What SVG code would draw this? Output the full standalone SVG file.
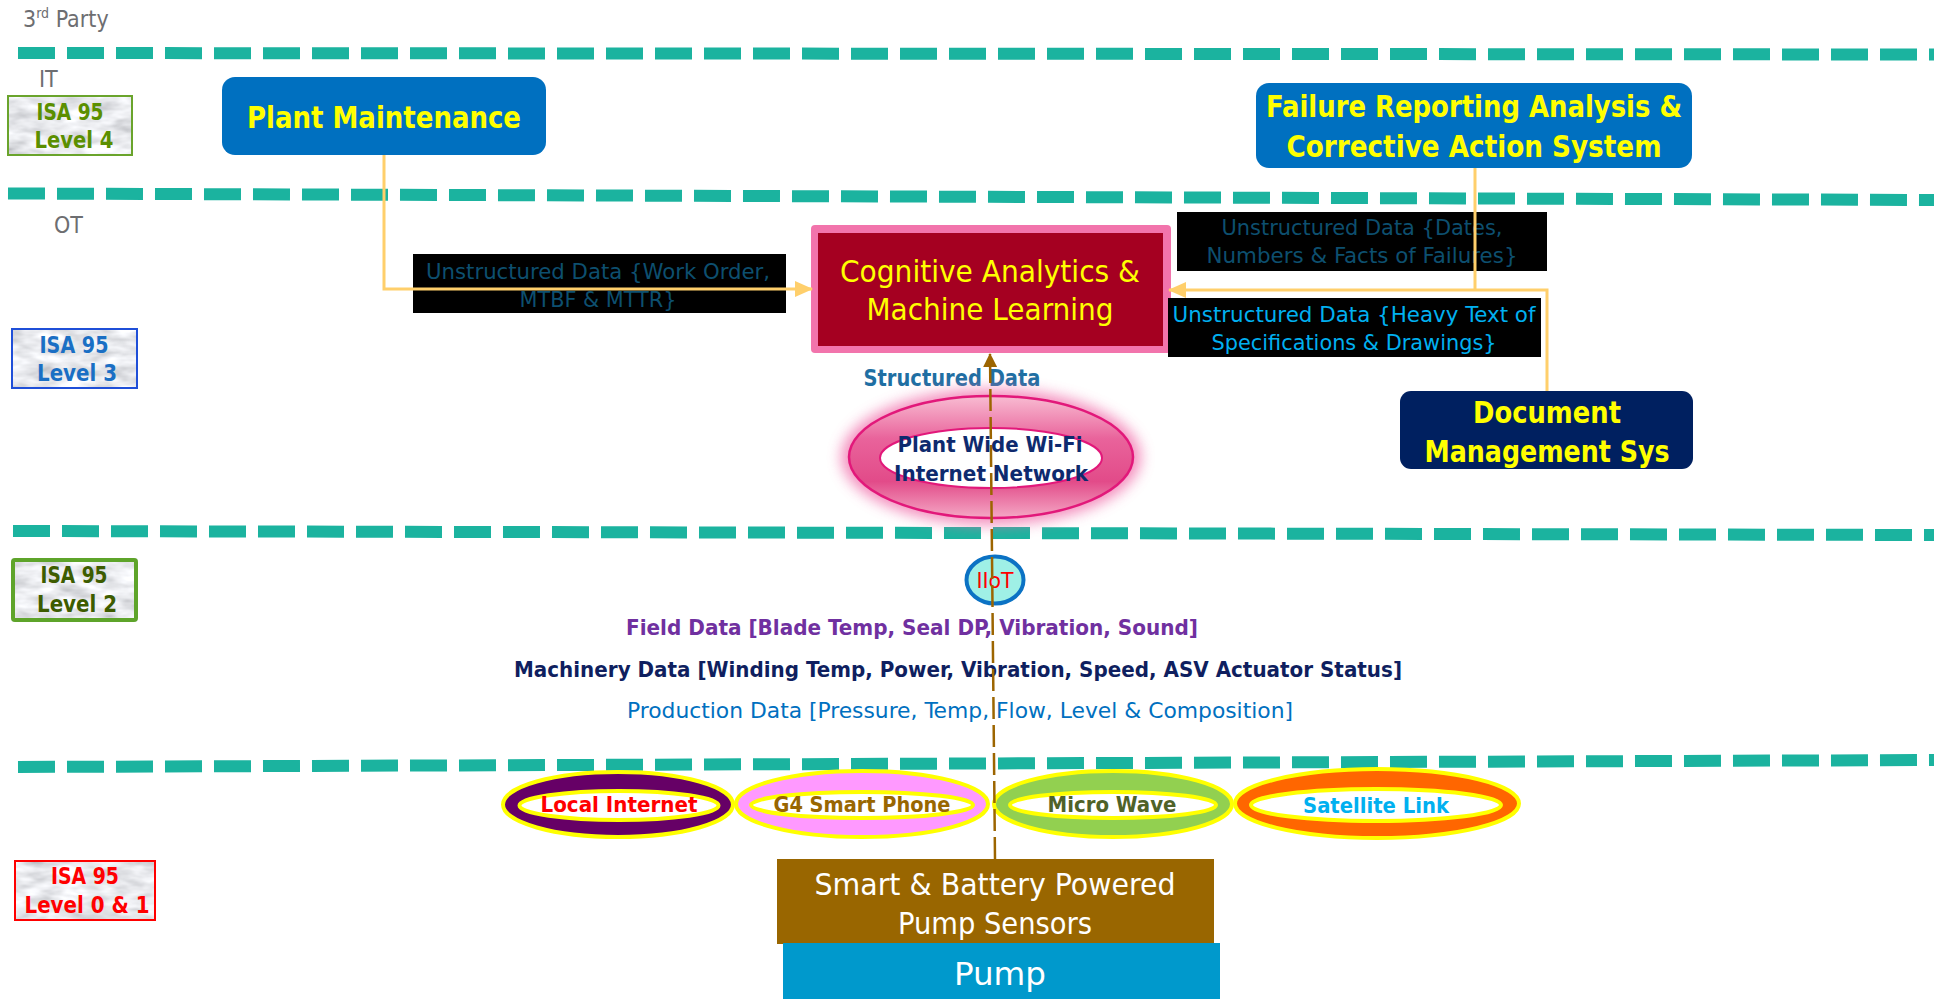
<svg xmlns="http://www.w3.org/2000/svg" width="1934" height="999" viewBox="0 0 1934 999">
  <style>
    text { font-family: "DejaVu Sans Condensed", "DejaVu Sans", sans-serif; text-anchor: middle; }
    .b { font-weight: bold; }
    .sep { fill: none; stroke: #1bb39f; stroke-width: 12; stroke-dasharray: 37 12; }
    .zone { fill: #6d6e71; font-size: 23px; text-anchor: start; }
    .isa { font-size: 23px; font-weight: bold; }
    .big { font-size: 30px; }
    .tag { fill: #000; }
    .tagtxt { font-size: 21.5px; }
    .ring-out { stroke: #ffff00; stroke-width: 4; }
    .ring-in { fill: #fff; stroke: #ffff00; stroke-width: 4; }
    .net { font-size: 21.5px; font-weight: bold; }
    .data { font-size: 21px; }
    .wire { fill: none; stroke: #ffcf6b; stroke-width: 3; }
    .iot { fill: none; stroke: #9c6500; stroke-width: 2.5; stroke-dasharray: 22 6; }
  </style>
  <defs>
    <!-- grey marble fill for the ISA 95 badges -->
    <filter id="marble" filterUnits="objectBoundingBox" x="0" y="0" width="1" height="1">
      <feTurbulence type="fractalNoise" baseFrequency="0.035 0.09" numOctaves="3" seed="7" result="noise"/>
      <feColorMatrix in="noise" type="matrix" values="0.75 0 0 0 0.44  0.75 0 0 0 0.45  0.75 0 0 0 0.48  0 0 0 0 1" result="gray"/>
      <feComposite in="gray" in2="SourceAlpha" operator="in"/>
    </filter>
    <filter id="glow" x="-20%" y="-30%" width="140%" height="160%">
      <feGaussianBlur stdDeviation="7"/>
    </filter>
    <linearGradient id="wifiRing" x1="0" y1="0" x2="0" y2="1">
      <stop offset="0" stop-color="#f8bcd2"/>
      <stop offset="0.35" stop-color="#e9639b"/>
      <stop offset="0.7" stop-color="#e24b89"/>
      <stop offset="1" stop-color="#f4a8c5"/>
    </linearGradient>
    <marker id="arrowGold" markerUnits="userSpaceOnUse" markerWidth="18" markerHeight="16" viewBox="0 0 18 16" refX="17" refY="8" orient="auto">
      <path d="M0,0 L18,8 L0,16 Z" fill="#ffcf6b"/>
    </marker>
    <marker id="arrowBrown" markerUnits="userSpaceOnUse" markerWidth="14" markerHeight="14" viewBox="0 0 14 14" refX="13" refY="7" orient="auto">
      <path d="M0,0 L14,7 L0,14 Z" fill="#9c6500"/>
    </marker>
  </defs>

  <rect width="1934" height="999" fill="#ffffff"/>

  <!-- zone separators -->
  <g id="separators">
    <line class="sep" x1="18" y1="53" x2="1934" y2="54.5"/>
    <line class="sep" x1="8" y1="193.5" x2="1934" y2="200"/>
    <line class="sep" x1="13" y1="531" x2="1934" y2="535"/>
    <line class="sep" x1="18" y1="767" x2="1934" y2="760"/>
  </g>

  <!-- zone captions -->
  <g id="zones">
    <text class="zone" x="23" y="27">3<tspan font-size="14" dy="-9">rd</tspan><tspan dy="9"> Party</tspan></text>
    <text class="zone" x="39" y="87">IT</text>
    <text class="zone" x="54" y="233">OT</text>
  </g>

  <!-- ISA 95 level badges -->
  <g id="isa-level-4">
    <rect x="8" y="96" width="124" height="59" fill="#ddd" filter="url(#marble)"/>
    <rect x="8" y="96" width="124" height="59" fill="none" stroke="#6aa42c" stroke-width="2"/>
    <text class="isa" x="70" y="120" fill="#5b8f00" textLength="67" lengthAdjust="spacingAndGlyphs">ISA 95</text>
    <text class="isa" x="74" y="148" fill="#5b8f00" textLength="79" lengthAdjust="spacingAndGlyphs">Level 4</text>
  </g>
  <g id="isa-level-3">
    <rect x="12" y="329" width="125" height="59" fill="#ddd" filter="url(#marble)"/>
    <rect x="12" y="329" width="125" height="59" fill="none" stroke="#1f4fd8" stroke-width="2"/>
    <text class="isa" x="74" y="353" fill="#1a6fc4" textLength="69" lengthAdjust="spacingAndGlyphs">ISA 95</text>
    <text class="isa" x="77" y="381" fill="#1a6fc4" textLength="80" lengthAdjust="spacingAndGlyphs">Level 3</text>
  </g>
  <g id="isa-level-2">
    <rect x="11" y="558" width="127" height="64" rx="3" fill="#ddd" filter="url(#marble)"/>
    <rect x="13" y="560" width="123" height="60" rx="2" fill="none" stroke="#5ea42a" stroke-width="4"/>
    <text class="isa" x="74" y="583" fill="#3d5c00" textLength="67" lengthAdjust="spacingAndGlyphs">ISA 95</text>
    <text class="isa" x="77" y="612" fill="#3d5c00" textLength="80" lengthAdjust="spacingAndGlyphs">Level 2</text>
  </g>
  <g id="isa-level-0-1">
    <rect x="15" y="861" width="140" height="59" fill="#ddd" filter="url(#marble)"/>
    <rect x="15" y="861" width="140" height="59" fill="none" stroke="#ff0000" stroke-width="2"/>
    <text class="isa" x="85" y="884" fill="#ff0000" textLength="68" lengthAdjust="spacingAndGlyphs">ISA 95</text>
    <text class="isa" x="87" y="913" fill="#ff0000" textLength="125" lengthAdjust="spacingAndGlyphs">Level 0 &amp; 1</text>
  </g>

  <!-- IT systems -->
  <g id="plant-maintenance">
    <rect x="222" y="77" width="324" height="78" rx="13" fill="#0070c0"/>
    <text class="big b" x="384" y="128" fill="#ffff00" textLength="274" lengthAdjust="spacingAndGlyphs">Plant Maintenance</text>
  </g>
  <g id="fracas">
    <rect x="1256" y="83" width="436" height="85" rx="13" fill="#0070c0"/>
    <text class="big b" x="1474" y="117" fill="#ffff00" textLength="416" lengthAdjust="spacingAndGlyphs">Failure Reporting Analysis &amp;</text>
    <text class="big b" x="1474" y="157" fill="#ffff00" textLength="375" lengthAdjust="spacingAndGlyphs">Corrective Action System</text>
  </g>

  <!-- OT systems -->
  <g id="cognitive-analytics">
    <rect x="811" y="225" width="360" height="128" rx="4" fill="#f274ac"/>
    <rect x="818" y="233" width="345" height="113" fill="#a50021"/>
    <text class="big" x="990" y="282" fill="#ffff00" textLength="300" lengthAdjust="spacingAndGlyphs">Cognitive Analytics &amp;</text>
    <text class="big" x="990" y="320" fill="#ffff00" textLength="247" lengthAdjust="spacingAndGlyphs">Machine Learning</text>
  </g>
  <g id="document-management">
    <rect x="1400" y="391" width="293" height="78" rx="11" fill="#002060"/>
    <text class="big b" x="1547" y="423" fill="#ffff00" textLength="148" lengthAdjust="spacingAndGlyphs">Document</text>
    <text class="big b" x="1547" y="462" fill="#ffff00" textLength="245" lengthAdjust="spacingAndGlyphs">Management Sys</text>
  </g>

  <!-- data labels -->
  <g id="label-work-order">
    <rect class="tag" x="413" y="254" width="373" height="59"/>
    <text class="tagtxt" x="598" y="279" fill="#0d4f6f" textLength="344" lengthAdjust="spacingAndGlyphs">Unstructured Data {Work Order,</text>
    <text class="tagtxt" x="598" y="307" fill="#0d4f6f" textLength="157" lengthAdjust="spacingAndGlyphs">MTBF &amp; MTTR}</text>
  </g>
  <g id="label-failures">
    <rect class="tag" x="1177" y="212" width="370" height="59"/>
    <text class="tagtxt" x="1362" y="235" fill="#0d4f6f" textLength="281" lengthAdjust="spacingAndGlyphs">Unstructured Data {Dates,</text>
    <text class="tagtxt" x="1362" y="263" fill="#0d4f6f" textLength="311" lengthAdjust="spacingAndGlyphs">Numbers &amp; Facts of Failures}</text>
  </g>
  <g id="label-documents">
    <rect class="tag" x="1168" y="298" width="373" height="59"/>
    <text class="tagtxt" x="1354" y="322" fill="#00b0f0" textLength="363" lengthAdjust="spacingAndGlyphs">Unstructured Data {Heavy Text of</text>
    <text class="tagtxt" x="1354" y="350" fill="#00b0f0" textLength="285" lengthAdjust="spacingAndGlyphs">Specifications &amp; Drawings}</text>
  </g>
  <g id="label-structured">
    <text class="b" x="952" y="386" font-size="22.5" fill="#1f6fa3" textLength="177" lengthAdjust="spacingAndGlyphs">Structured Data</text>
  </g>

  <!-- plant wide network -->
  <g id="wifi-network">
    <ellipse cx="991" cy="457" rx="150" ry="68" fill="#f06aa8" opacity="0.75" filter="url(#glow)"/>
    <ellipse cx="991" cy="457" rx="142" ry="61" fill="url(#wifiRing)" stroke="#e2187a" stroke-width="2.5"/>
    <ellipse cx="991" cy="458" rx="111" ry="30" fill="#ffffff" stroke="#e2187a" stroke-width="2"/>
    <text class="b" x="990" y="452" font-size="21.5" fill="#0e2a6e" textLength="185" lengthAdjust="spacingAndGlyphs">Plant Wide Wi-Fi</text>
    <text class="b" x="991" y="481" font-size="21.5" fill="#0e2a6e" textLength="194" lengthAdjust="spacingAndGlyphs">Internet Network</text>
  </g>

  <g id="iiot">
    <ellipse cx="995" cy="580" rx="28.5" ry="23.5" fill="#9ff0e6" stroke="#0b72c4" stroke-width="4"/>
    <text x="995" y="588" font-size="21" fill="#ff0000" textLength="37" lengthAdjust="spacingAndGlyphs">IIoT</text>
  </g>

  <!-- field level data streams -->
  <g id="data-streams">
    <text class="data b" x="912" y="635" fill="#7030a0" textLength="572" lengthAdjust="spacingAndGlyphs">Field Data [Blade Temp, Seal DP, Vibration, Sound]</text>
    <text class="data b" x="958" y="677" fill="#0f1f5f" textLength="888" lengthAdjust="spacingAndGlyphs">Machinery Data [Winding Temp, Power, Vibration, Speed, ASV Actuator Status]</text>
    <text class="data" x="960" y="718" font-size="20" fill="#0070c0" textLength="666" lengthAdjust="spacingAndGlyphs">Production Data [Pressure, Temp, Flow, Level &amp; Composition]</text>
  </g>

  <!-- communication links -->
  <g id="link-local-internet">
    <ellipse class="ring-out" cx="618" cy="804.5" rx="115" ry="32.5" fill="#660066"/>
    <ellipse class="ring-in" cx="619" cy="805.5" rx="99.5" ry="14.5"/>
    <text class="net" x="619" y="812" fill="#ff0000" textLength="157" lengthAdjust="spacingAndGlyphs">Local Internet</text>
  </g>
  <g id="link-g4-phone">
    <ellipse class="ring-out" cx="862" cy="804" rx="126" ry="33" fill="#ff99ff"/>
    <ellipse class="ring-in" cx="862" cy="805" rx="111" ry="13"/>
    <text class="net" x="862" y="812" fill="#996600" textLength="177" lengthAdjust="spacingAndGlyphs">G4 Smart Phone</text>
  </g>
  <g id="link-microwave">
    <ellipse class="ring-out" cx="1113" cy="804" rx="119" ry="33" fill="#92d050"/>
    <ellipse class="ring-in" cx="1113" cy="805" rx="103" ry="13"/>
    <text class="net" x="1112" y="812" fill="#4f6228" textLength="129" lengthAdjust="spacingAndGlyphs">Micro Wave</text>
  </g>
  <g id="link-satellite">
    <ellipse class="ring-out" cx="1377" cy="803.5" rx="142" ry="34.5" fill="#ff6600"/>
    <ellipse class="ring-in" cx="1376" cy="805" rx="125" ry="16"/>
    <text class="net" x="1376" y="813" fill="#00b0f0" textLength="146" lengthAdjust="spacingAndGlyphs">Satellite Link</text>
  </g>

  <!-- field devices -->
  <g id="pump-sensors">
    <rect x="777" y="859" width="437" height="85" fill="#996600"/>
    <text class="big" x="995" y="895" fill="#ffffff" textLength="361" lengthAdjust="spacingAndGlyphs">Smart &amp; Battery Powered</text>
    <text class="big" x="995" y="934" fill="#ffffff" textLength="194" lengthAdjust="spacingAndGlyphs">Pump Sensors</text>
  </g>
  <g id="pump">
    <rect x="783" y="943" width="437" height="56" fill="#0099cc"/>
    <text x="1000" y="985" font-size="32" fill="#ffffff" textLength="92" lengthAdjust="spacingAndGlyphs">Pump</text>
  </g>

  <!-- connectors -->
  <g id="connectors">
    <path class="wire" d="M384,155 V289 H812" marker-end="url(#arrowGold)"/>
    <path class="wire" d="M1475,168 V290"/>
    <path class="wire" d="M1547,391 V290 H1169" marker-end="url(#arrowGold)"/>
    <path class="iot" d="M995,859 L990,354" marker-end="url(#arrowBrown)"/>
  </g>
</svg>
